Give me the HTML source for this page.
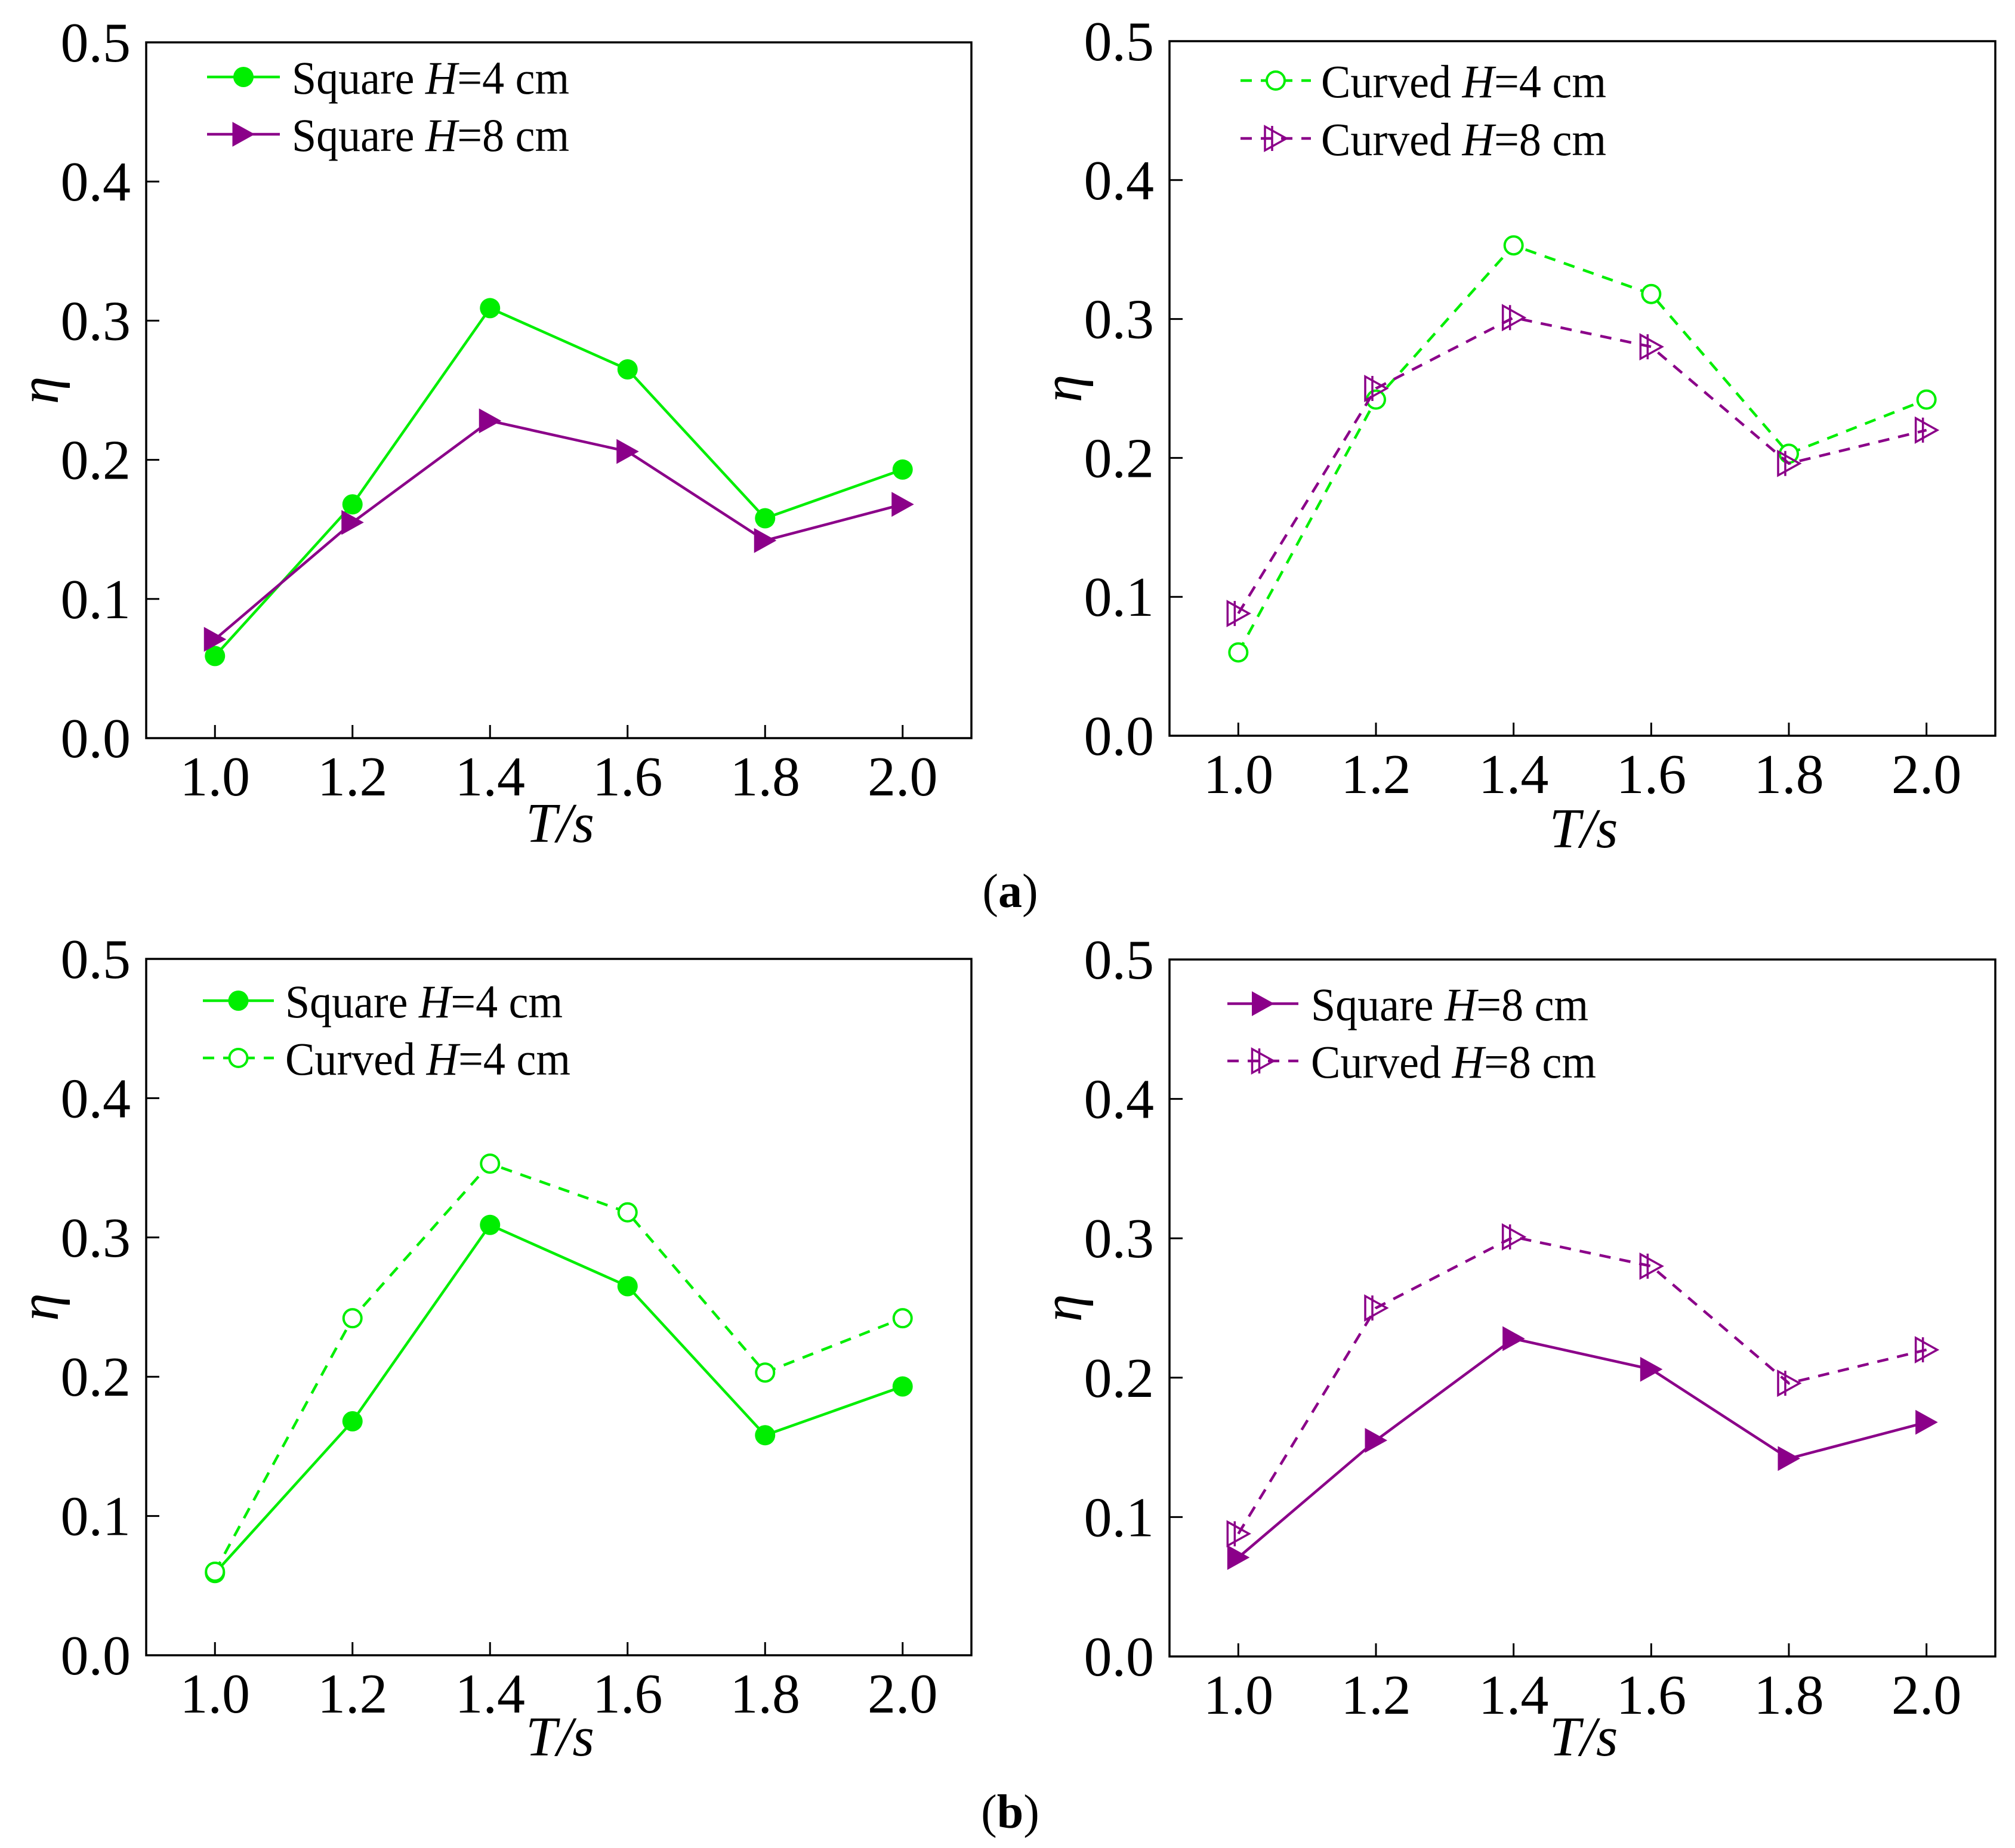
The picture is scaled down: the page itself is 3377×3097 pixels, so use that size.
<!DOCTYPE html>
<html><head><meta charset="utf-8"><style>
html,body{margin:0;padding:0;background:#fff;}
svg{display:block;}
</style></head><body>
<svg id="fig" width="3377" height="3097" viewBox="0 0 3377 3097" xmlns="http://www.w3.org/2000/svg" font-family="Liberation Serif, serif">
<text x="1693" y="1520" font-size="80" text-anchor="middle">(<tspan font-weight="bold">a</tspan>)</text>
<text x="1693" y="3063" font-size="80" text-anchor="middle">(<tspan font-weight="bold">b</tspan>)</text>
</svg>
<script>
const periods = [1.0, 1.2, 1.4, 1.6, 1.8, 2.0];
const xTickLabels = ["1.0","1.2","1.4","1.6","1.8","2.0"];
const yTickValues = [0.0, 0.1, 0.2, 0.3, 0.4, 0.5];
const yTickLabels = ["0.0","0.1","0.2","0.3","0.4","0.5"];
const squareH4 = [0.059, 0.168, 0.309, 0.265, 0.158, 0.193];
const squareH8 = [0.071, 0.155, 0.228, 0.206, 0.142, 0.168];
const curvedH4 = [0.060, 0.242, 0.353, 0.318, 0.203, 0.242];
const curvedH8 = [0.088, 0.250, 0.301, 0.280, 0.196, 0.220];

const NS = "http://www.w3.org/2000/svg";
const svg = document.getElementById('fig');
const GREEN = "#00ee00", PURPLE = "#8b0089";
const FF = "Liberation Serif, serif";
function mk(tag, attrs, parent){ const e=document.createElementNS(NS,tag); for(const k in attrs) e.setAttribute(k,attrs[k]); parent.appendChild(e); return e; }

const series = {
  sq4:{name:"Square ", h:"4", data:squareH4, color:GREEN, dash:false, marker:"circle", fill:true, len:465},
  sq8:{name:"Square ", h:"8", data:squareH8, color:PURPLE, dash:false, marker:"tri", fill:true, len:465},
  cv4:{name:"Curved ", h:"4", data:curvedH4, color:GREEN, dash:true, marker:"circle", fill:false, len:478},
  cv8:{name:"Curved ", h:"8", data:curvedH8, color:PURPLE, dash:true, marker:"tri", fill:false, len:478}
};

const panels = [
  {id:"a-left", L:245, R:1628, T:71, B:1237, keys:["sq4","sq8"], leg:{x1:347,x2:469,tx:489,y:[129,225]}, etaX:97, tsY:1411},
  {id:"a-right", L:1960, R:3344, T:69, B:1233, keys:["cv4","cv8"], leg:{x1:2079,x2:2197,tx:2214,y:[135,232]}, etaX:1812, tsY:1420},
  {id:"b-left", L:245, R:1628, T:1607, B:2774, keys:["sq4","cv4"], leg:{x1:340,x2:459,tx:478,y:[1677,1773]}, etaX:97, tsY:2942},
  {id:"b-right", L:1960, R:3344, T:1608, B:2776, keys:["sq8","cv8"], leg:{x1:2057,x2:2176,tx:2197,y:[1682,1778]}, etaX:1812, tsY:2942}
];

function drawMarker(g, s, cx, cy){
  let m;
  if(s.marker==="circle"){
    m = mk('circle',{cx:cx,cy:cy,r:s.fill?17:15,fill:s.fill?s.color:"#fff",stroke:s.color,'stroke-width':s.fill?0:4},g);
  } else {
    const w=36,h=40;
    m = mk('polygon',{points:`${cx-w/2},${cy-h/2} ${cx+w/2},${cy} ${cx-w/2},${cy+h/2}`,fill:s.fill?s.color:"none",stroke:s.color,'stroke-width':s.fill?1:3.5},g);
    if(!s.fill){
      const b = mk('line',{x1:cx-6,x2:cx-6,y1:cy-21,y2:cy+21,stroke:s.color,'stroke-width':3.5},g);
      
      
    }
  }
  
  
}

panels.forEach(p=>{
  const g = mk('g',{},svg);
  
  
  const xs = v => p.L + (v-0.9)/(2.1-0.9)*(p.R-p.L);
  const ys = v => p.B - v/0.5*(p.B-p.T);
  const frame = mk('rect',{x:p.L,y:p.T,width:p.R-p.L,height:p.B-p.T,fill:"none",stroke:"#000",'stroke-width':3.5},g);
  
  
  periods.forEach((v,i)=>{
    const x=xs(v);
    const t=mk('line',{x1:x,x2:x,y1:p.B,y2:p.B-22,stroke:"#000",'stroke-width':3},g);
    
    
    const lb=mk('text',{x:x,y:p.B+96,'font-size':94,'font-family':FF,'text-anchor':'middle'},g);
    lb.textContent=xTickLabels[i];
    
    
  });
  yTickValues.forEach((v,i)=>{
    const y=ys(v);
    if(v>0 && v<0.5){
      const t=mk('line',{x1:p.L,x2:p.L+22,y1:y,y2:y,stroke:"#000",'stroke-width':3},g);
      
      
    }
    const lb=mk('text',{x:p.L-26,y:y+32,'font-size':94,'font-family':FF,'text-anchor':'end'},g);
    lb.textContent=yTickLabels[i];
    
    
  });
  const cy=(p.T+p.B)/2;
  const eta=mk('text',{x:p.etaX,y:cy,'font-size':94,'font-family':FF,'font-style':'italic','text-anchor':'middle',transform:`rotate(-90 ${p.etaX} ${cy})`},g);
  eta.textContent="η";
  
  
  const ts=mk('text',{x:(p.L+p.R)/2+2,y:p.tsY,'font-size':94,'font-family':FF,'font-style':'italic','text-anchor':'middle'},g);
  ts.textContent="T/s";
  
  

  p.keys.forEach((k,si)=>{
    const s=series[k];
    const pts=s.data.map((v,i)=>xs(periods[i])+","+ys(v)).join(" ");
    const ln=mk('polyline',{points:pts,fill:"none",stroke:s.color,'stroke-width':4.5,'stroke-dasharray':s.dash?"19 15":"none"},g);
    
    
    s.data.forEach((v,i)=>drawMarker(g,s,xs(periods[i]),ys(v)));
    const ly=p.leg.y[si];
    const lg=mk('g',{},g);
    
    
    mk('line',{x1:p.leg.x1,x2:p.leg.x2,y1:ly,y2:ly,stroke:s.color,'stroke-width':4.5,'stroke-dasharray':s.dash?"19 15":"none"},lg);
    drawMarker(lg,s,(p.leg.x1+p.leg.x2)/2,ly);
    const tx=mk('text',{x:p.leg.tx,y:ly+28,'font-size':78,'font-family':FF,textLength:s.len,lengthAdjust:'spacingAndGlyphs'},lg);
    tx.innerHTML=`${s.name}<tspan font-style="italic">H</tspan>=${s.h} cm`;
    
    
  });
});
</script>
</body></html>
